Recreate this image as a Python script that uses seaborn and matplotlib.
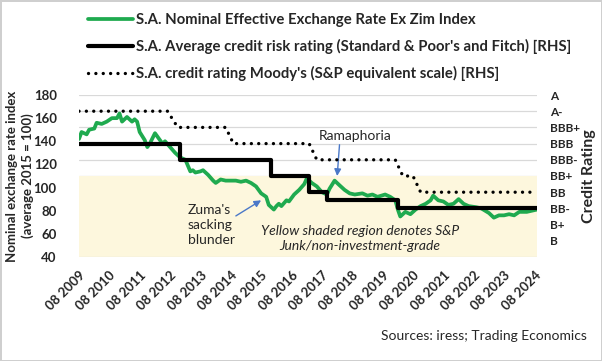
"""South Africa NEER vs sovereign credit ratings chart."""

import matplotlib.pyplot as plt
import matplotlib.dates as mdates
import pandas as pd
import seaborn as sns

# Nominal effective exchange rate ex Zim (average 2015 = 100)
neer_dates = [
    "2009-08", "2009-09", "2009-11", "2009-12", "2010-02", "2010-03", "2010-05",
    "2010-07", "2010-09", "2010-11", "2010-12", "2011-01", "2011-03", "2011-05",
    "2011-06", "2011-07", "2011-08", "2011-10", "2011-11", "2011-12", "2012-02",
    "2012-04", "2012-05", "2012-06", "2012-08", "2012-10", "2012-12", "2013-02",
    "2013-04", "2013-05", "2013-06", "2013-08", "2013-09", "2013-11", "2014-01",
    "2014-02", "2014-04", "2014-06", "2014-08", "2014-10", "2014-12", "2015-02",
    "2015-04", "2015-06", "2015-08", "2015-10", "2015-11", "2016-01", "2016-02",
    "2016-03", "2016-04", "2016-06", "2016-07", "2016-09", "2016-11", "2017-01",
    "2017-02", "2017-04", "2017-06", "2017-08", "2017-10", "2017-11", "2018-01",
    "2018-03", "2018-05", "2018-07", "2018-09", "2018-12", "2019-02", "2019-04",
    "2019-06", "2019-09", "2019-11", "2020-01", "2020-02", "2020-03", "2020-05",
    "2020-07", "2020-09", "2020-11", "2021-01", "2021-03", "2021-04", "2021-06",
    "2021-08", "2021-10", "2021-12", "2022-02", "2022-04", "2022-06", "2022-09",
    "2022-11", "2023-02", "2023-04", "2023-06", "2023-08", "2023-10", "2023-12",
    "2024-02", "2024-05", "2024-07", "2024-09",
]
neer_values = [
    142, 148, 146, 150, 151, 156, 155,
    157, 160, 160, 164, 157, 161, 157,
    159, 157, 148, 141, 135, 138, 147,
    141, 138, 140, 135, 130, 126, 124,
    114, 115, 113, 114, 115, 111, 106,
    104, 107, 106, 106, 106, 105, 106,
    104, 101, 95, 92, 85, 81, 84,
    86, 84, 89, 88, 94, 98, 103,
    108, 104, 101, 96, 94, 99, 106,
    102, 98, 95, 94, 95, 93, 94,
    92, 94, 92, 89, 81, 75, 79,
    77, 81, 84, 86, 89, 93, 89,
    88, 85, 86, 90, 86, 84, 83,
    82, 78, 74, 76, 76, 77, 76,
    79, 79, 80, 81,
]

# Rating scale (S&P equivalent), lowest to highest
rating_labels = ["B", "B+", "BB-", "BB", "BB+", "BBB-", "BBB", "BBB+", "A-", "A"]

# Average S&P / Fitch rating (index into rating_labels), step changes
sp_fitch_dates = ["2009-08", "2012-12", "2015-12", "2017-03", "2017-10", "2020-02", "2024-09"]
sp_fitch_values = [6, 5, 4, 3, 2.5, 2, 2]

# Moody's rating on S&P equivalent scale
moodys_dates = [
    "2009-08", "2012-07", "2012-11", "2014-06", "2014-09", "2017-03",
    "2017-06", "2020-01", "2020-04", "2020-08", "2020-11", "2024-09",
]
moodys_values = [8, 8, 7, 7, 6, 6, 5, 5, 4, 4, 3, 3]

tick_years = list(range(2009, 2025))

GREEN = "#1faa4f"
YELLOW = "#fdf7dd"
GRID = "#d9d9d9"
TEXT = "#262626"
BLUE = "#4a78c8"

sns.set_theme(style="white")
plt.rcParams["font.family"] = ["Lato", "DejaVu Sans"]

neer = pd.DataFrame({"date": pd.to_datetime(neer_dates), "value": neer_values})
sp_fitch = pd.DataFrame({"date": pd.to_datetime(sp_fitch_dates), "value": sp_fitch_values})
moodys = pd.DataFrame({"date": pd.to_datetime(moodys_dates), "value": moodys_values})

fig = plt.figure(figsize=(6.02, 3.61), dpi=100)
fig.patch.set_edgecolor("#cfcfcf")
fig.patch.set_linewidth(2)

rect = [79 / 602, 1 - 257 / 361, (537 - 79) / 602, (257 - 95) / 361]
ax_bg = fig.add_axes(rect)               # shading + grid (rating scale)
ax = fig.add_axes(rect, sharex=ax_bg)    # NEER on left axis
ax_r = fig.add_axes(rect, sharex=ax_bg)  # ratings lines on right axis
for a, z in ((ax_bg, 0), (ax, 1), (ax_r, 2)):
    a.set_zorder(z)
    for s in a.spines.values():
        s.set_visible(False)
ax.patch.set_visible(False)
ax_r.patch.set_visible(False)

# background: junk region and rating grid
ax_bg.set_ylim(-1, 9)
ax_bg.axhspan(-1, 4, color=YELLOW, lw=0)
ax_bg.set_yticks(range(10))
ax_bg.grid(axis="y", color=GRID, lw=0.9)
ax_bg.axhline(-1, color=GRID, lw=0.9)
ax_bg.tick_params(left=False, labelleft=False, bottom=False, labelbottom=False)

# NEER
sns.lineplot(data=neer, x="date", y="value", ax=ax, color=GREEN, lw=2.7,
             label="S.A. Nominal Effective Exchange Rate Ex Zim Index")
ax.set_ylim(40, 180)
ax.set_yticks(range(40, 181, 20))
ax.tick_params(axis="y", labelsize=9.5, colors=TEXT, pad=10, left=False)
for t in ax.get_yticklabels():
    t.set_fontweight("bold")
ax.set_ylabel("Nominal exchange rate index\n(average 2015 = 100)", fontsize=9.5,
              fontweight="bold", color=TEXT, linespacing=1.25)
ax.yaxis.set_label_coords(-0.099, 0.5)
ax.set_xlabel("")

# Ratings
sns.lineplot(data=sp_fitch, x="date", y="value", ax=ax_r, color="black", lw=3,
             drawstyle="steps-post",
             label="S.A. Average credit risk rating (Standard & Poor's and Fitch) [RHS]")
sns.lineplot(data=moodys, x="date", y="value", ax=ax_r, color="black", lw=2.4,
             linestyle=(0, (0.01, 2.2)), dash_capstyle="round",
             label="S.A. credit rating Moody's (S&P equivalent scale) [RHS]")
ax_r.set_ylim(-1, 9)
ax_r.yaxis.tick_right()
ax_r.yaxis.set_label_position("right")
ax_r.set_yticks(range(10))
ax_r.set_yticklabels(rating_labels)
ax_r.tick_params(axis="y", labelsize=8.5, colors=TEXT, pad=3.5, right=False, left=False,
                 labelleft=False, labelright=True)
for t in ax_r.get_yticklabels():
    t.set_fontweight("bold")
ax_r.set_ylabel("Credit Rating", fontsize=11.5, fontweight="bold", color=TEXT)
ax_r.yaxis.set_label_coords(1.098, 0.5)
ax_r.set_xlabel("")

# x axis: every August
ax_r.set_xlim(pd.Timestamp("2009-08-01"), pd.Timestamp("2024-09-01"))
ax_bg.set_xticks([pd.Timestamp(f"{y}-08-01") for y in tick_years])
ax_bg.xaxis.set_major_formatter(mdates.DateFormatter("%m %Y"))
for a in (ax, ax_r):
    a.tick_params(bottom=False, labelbottom=False)
ax_bg.tick_params(axis="x", labelbottom=True, labelsize=9.5, colors=TEXT, pad=3)
for t in ax_bg.get_xticklabels():
    t.set_rotation(45)
    t.set_ha("right")
    t.set_rotation_mode("anchor")
    t.set_fontweight("bold")

# legend across the top
h1, l1 = ax.get_legend_handles_labels()
h2, l2 = ax_r.get_legend_handles_labels()
ax.get_legend().remove()
ax_r.get_legend().remove()
fig.legend(h1 + h2, l1 + l2, loc="upper left", bbox_to_anchor=(82 / 602, 1 - 7 / 361),
           frameon=False, prop={"weight": "bold", "size": 10.7},
           handlelength=3.0, handletextpad=0.2, labelspacing=0.82, borderaxespad=0)

# annotations
arrow = dict(arrowstyle="-|>", color=BLUE, lw=1, mutation_scale=10, shrinkA=0, shrinkB=0)
ax.text(pd.Timestamp("2013-03-01"), 67.5, "Zuma's\nsacking\nblunder", ha="left",
        va="center", fontsize=10, color=TEXT, linespacing=1.3)
ax.annotate("", xy=(pd.Timestamp("2015-08-01"), 89),
            xytext=(pd.Timestamp("2014-10-01"), 75.5), arrowprops=arrow)
ax.annotate("Ramaphoria", xy=(pd.Timestamp("2018-02-01"), 110),
            xytext=(pd.Timestamp("2018-09-01"), 145), ha="center", va="center",
            fontsize=10, color=TEXT)
ax.annotate("", xy=(pd.Timestamp("2018-02-01"), 110),
            xytext=(pd.Timestamp("2018-03-01"), 137), arrowprops=arrow)
ax.text(pd.Timestamp("2018-11-01"), 56,
        "Yellow shaded region denotes S&P\nJunk/non-investment-grade",
        ha="center", va="center", fontsize=10, style="italic", color=TEXT,
        linespacing=1.25)

fig.text(587 / 602, 1 - 336 / 361, "Sources: iress; Trading Economics",
         ha="right", va="center", fontsize=10, color=TEXT)

fig.savefig("out.png", dpi=100)
